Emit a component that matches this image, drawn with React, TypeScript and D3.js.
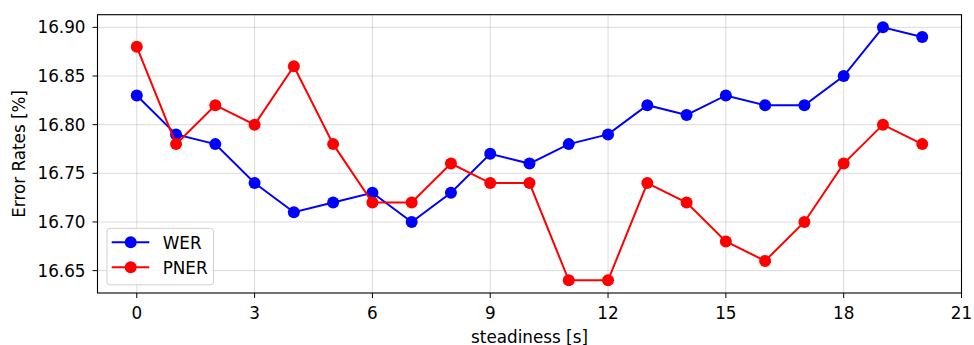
import React from 'react';
import * as d3 from 'd3';

const steps = d3.range(0, 21);
const werValues = [16.83, 16.79, 16.78, 16.74, 16.71, 16.72, 16.73, 16.70, 16.73, 16.77, 16.76, 16.78, 16.79, 16.82, 16.81, 16.83, 16.82, 16.82, 16.85, 16.90, 16.89];
const pnerValues = [16.88, 16.78, 16.82, 16.80, 16.86, 16.78, 16.72, 16.72, 16.76, 16.74, 16.74, 16.64, 16.64, 16.74, 16.72, 16.68, 16.66, 16.70, 16.76, 16.80, 16.78];
const xTicks = [0, 3, 6, 9, 12, 15, 18, 21];
const yTicks = [16.65, 16.70, 16.75, 16.80, 16.85, 16.90];

const series = [
  { label: 'WER', values: werValues, color: '#0000ff' },
  { label: 'PNER', values: pnerValues, color: '#ff0000' },
];

const width = 974;
const height = 345;
const margin = { left: 97.5, right: 12.5, top: 14.7, bottom: 52 };
const font = 'DejaVu Sans, sans-serif';
const fs = 16.8;

export default function App() {
  const x = d3.scaleLinear().domain([-1, 21]).range([margin.left, width - margin.right]);
  const y = d3.scaleLinear().domain([16.627, 16.913]).range([height - margin.bottom, margin.top]);
  const line = d3.line<number>().x((d, i) => x(steps[i])).y(d => y(d));

  const x0 = margin.left, x1 = width - margin.right;
  const y0 = height - margin.bottom, y1 = margin.top;

  return (
    <svg width={width} height={height} style={{ position: 'absolute', left: 0, top: 0 }} fontFamily={font}>
      <rect width={width} height={height} fill="#fff" />
      {xTicks.map(t => (
        <line key={'gx' + t} x1={x(t)} x2={x(t)} y1={y0} y2={y1} stroke="#b0b0b0" strokeOpacity={0.45} strokeWidth={1} />
      ))}
      {yTicks.map(t => (
        <line key={'gy' + t} x1={x0} x2={x1} y1={y(t)} y2={y(t)} stroke="#b0b0b0" strokeOpacity={0.45} strokeWidth={1} />
      ))}
      {series.map(s => (
        <g key={s.label}>
          <path d={line(s.values) || ''} fill="none" stroke={s.color} strokeWidth={2} />
          {s.values.map((v, i) => (
            <circle key={i} cx={x(steps[i])} cy={y(v)} r={6} fill={s.color} />
          ))}
        </g>
      ))}
      <rect x={x0} y={y1} width={x1 - x0} height={y0 - y1} fill="none" stroke="#000" strokeWidth={1.1} />
      {xTicks.map(t => (
        <g key={'tx' + t}>
          <line x1={x(t)} x2={x(t)} y1={y0} y2={y0 + 5} stroke="#000" />
          <text x={x(t)} y={319.3} fontSize={fs} textAnchor="middle">{t}</text>
        </g>
      ))}
      {yTicks.map(t => (
        <g key={'ty' + t}>
          <line x1={x0 - 5} x2={x0} y1={y(t)} y2={y(t)} stroke="#000" />
          <text x={x0 - 12} y={y(t) + 6} fontSize={fs} textAnchor="end">{t.toFixed(2)}</text>
        </g>
      ))}
      <text x={(x0 + x1) / 2} y={342.5} fontSize={fs} textAnchor="middle">steadiness [s]</text>
      <text transform={`translate(25,${(y0 + y1) / 2}) rotate(-90)`} fontSize={fs} textAnchor="middle">Error Rates [%]</text>
      <g>
        <rect x={107} y={228.3} width={106.5} height={56.5} rx={3} fill="#fff" fillOpacity={0.8} stroke="#d0d0d0" />
        {series.map((s, i) => (
          <g key={'lg' + s.label}>
            <line x1={111.7} x2={149.3} y1={242.3 + i * 25} y2={242.3 + i * 25} stroke={s.color} strokeWidth={2} />
            <circle cx={130.7} cy={242.3 + i * 25} r={6} fill={s.color} />
            <text x={162.7} y={248.5 + i * 25} fontSize={fs}>{s.label}</text>
          </g>
        ))}
      </g>
    </svg>
  );
}
